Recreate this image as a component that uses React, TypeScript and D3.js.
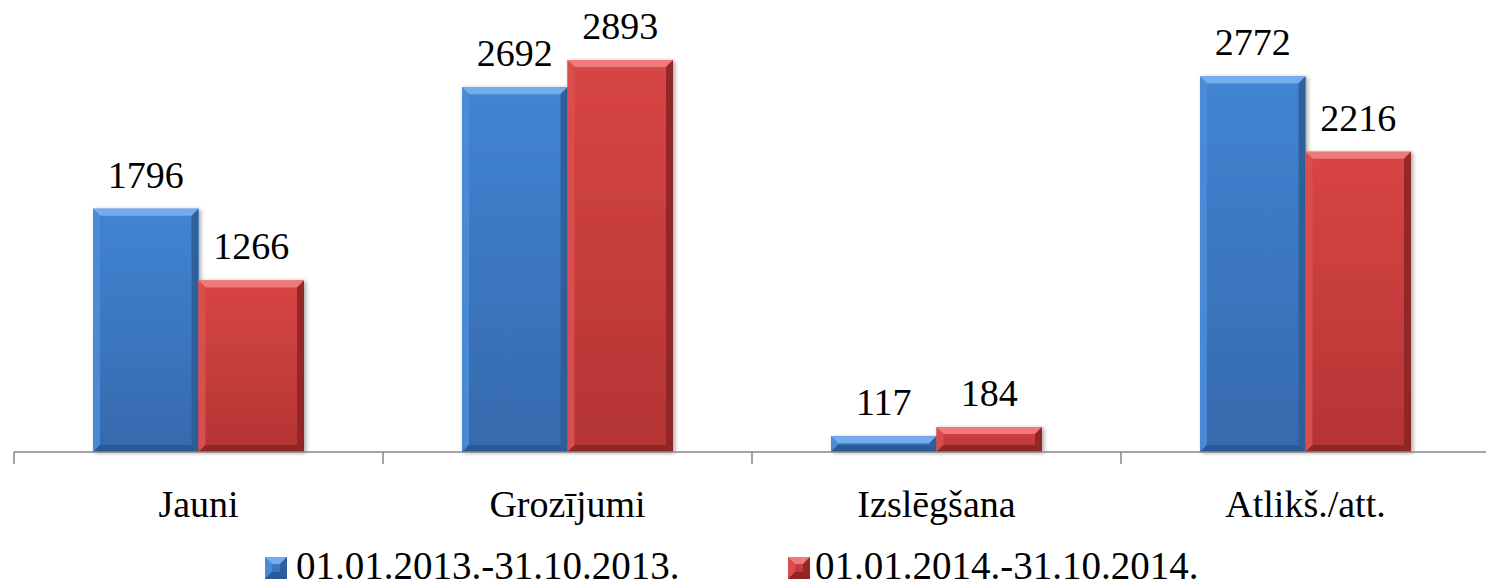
import React from "react";
import * as d3 from "d3";

const categories = ["Jauni", "Grozījumi", "Izslēgšana", "Atlikš./att."];
const seriesNames = ["01.01.2013.-31.10.2013.", "01.01.2014.-31.10.2014."];
const series2013 = [1796, 2692, 117, 2772];
const series2014 = [1266, 2893, 184, 2216];

const W = 1486;
const H = 588;
const FONT = '"Liberation Serif", "Times New Roman", Times, "DejaVu Serif", serif';

type Pal = { top: string; bottom: string; bevTop: string; bevLeft: string; bevRight: string; bevBottom: string; id: string };
const palettes: Pal[] = [
  { id: "b", top: "#4184d3", bottom: "#3669ad", bevTop: "#74aced", bevLeft: "#4d8cd8", bevRight: "#2d5d98", bevBottom: "#2b5890" },
  { id: "r", top: "#d84545", bottom: "#b43434", bevTop: "#f07a7a", bevLeft: "#dc5050", bevRight: "#8e2626", bevBottom: "#8a2424" },
];

function BevelBar({ x, y, w, h, p }: { x: number; y: number; w: number; h: number; p: Pal }) {
  const b = Math.min(7, h / 2, w / 2);
  const x2 = x + w;
  const y2 = y + h;
  return (
    <g>
      <rect x={x} y={y} width={w} height={h} fill={`url(#grad-${p.id})`} />
      <polygon points={`${x},${y} ${x2},${y} ${x2 - b},${y + b} ${x + b},${y + b}`} fill={p.bevTop} />
      <polygon points={`${x},${y} ${x + b},${y + b} ${x + b},${y2 - b} ${x},${y2}`} fill={p.bevLeft} opacity={0.9} />
      <polygon points={`${x2},${y} ${x2},${y2} ${x2 - b},${y2 - b} ${x2 - b},${y + b}`} fill={p.bevRight} opacity={0.9} />
      <polygon points={`${x},${y2} ${x + b},${y2 - b} ${x2 - b},${y2 - b} ${x2},${y2}`} fill={p.bevBottom} opacity={0.9} />
    </g>
  );
}

export default function App() {
  const baseline = 452;
  const x = d3.scaleBand<string>().domain(categories).range([14, 1490]).paddingInner(0).paddingOuter(0);
  const inner = d3.scaleBand<number>().domain([0, 1]).range([79, x.bandwidth() - 79]).padding(0);
  const y = d3.scaleLinear().domain([0, 3000]).range([baseline, baseline - 406.5]);
  const data = [series2013, series2014];
  const ticks = [...categories.map((c) => x(c) as number), 1490];

  const legendItems = [
    { mx: 265, tx: 296 },
    { mx: 788, tx: 815 },
  ];
  const textStyle = { fontFamily: FONT } as React.CSSProperties;

  return (
    <svg width={W} height={H} style={{ position: "absolute", left: 0, top: 0, background: "#fff" }}>
      <defs>
        {palettes.map((p) => (
          <linearGradient key={p.id} id={`grad-${p.id}`} x1="0" y1="0" x2="0" y2="1">
            <stop offset="0" stopColor={p.top} />
            <stop offset="1" stopColor={p.bottom} />
          </linearGradient>
        ))}
        <filter id="shadow" x="-10%" y="-10%" width="130%" height="130%">
          <feGaussianBlur in="SourceAlpha" stdDeviation="2" />
          <feOffset dx="2" dy="1" result="ob" />
          <feComponentTransfer>
            <feFuncA type="linear" slope="0.35" />
          </feComponentTransfer>
          <feMerge>
            <feMergeNode />
            <feMergeNode in="SourceGraphic" />
          </feMerge>
        </filter>
      </defs>

      {categories.map((c, ci) =>
        data.map((s, si) => {
          const bx = (x(c) as number) + (inner(si) as number);
          const bw = inner.bandwidth();
          const by = y(s[ci]);
          return (
            <g key={`${c}-${si}`} filter="url(#shadow)">
              <BevelBar x={bx} y={by} w={bw} h={baseline - by} p={palettes[si]} />
            </g>
          );
        })
      )}

      {/* axis */}
      <line x1={14} x2={W} y1={baseline} y2={baseline} stroke="#868686" strokeWidth={1.5} />
      {ticks.map((t, i) => (
        <line key={i} x1={t} x2={t} y1={baseline} y2={baseline + 12} stroke="#868686" strokeWidth={1.5} />
      ))}

      {/* value labels */}
      {categories.map((c, ci) =>
        data.map((s, si) => {
          const cx = (x(c) as number) + (inner(si) as number) + inner.bandwidth() / 2;
          return (
            <text key={`l-${c}-${si}`} x={cx} y={y(s[ci]) - 21} textAnchor="middle" style={textStyle} fontSize={38} fill="#000">
              {s[ci]}
            </text>
          );
        })
      )}

      {/* category labels */}
      {categories.map((c) => (
        <text key={`c-${c}`} x={(x(c) as number) + x.bandwidth() / 2} y={517} textAnchor="middle" style={textStyle} fontSize={38} fill="#000">
          {c}
        </text>
      ))}

      {/* legend */}
      {legendItems.map((li, i) => (
        <g key={`lg-${i}`}>
          <BevelBar x={li.mx} y={557} w={22} h={22} p={palettes[i]} />
          <text x={li.tx} y={579} style={textStyle} fontSize={39} fill="#000">
            {seriesNames[i]}
          </text>
        </g>
      ))}
    </svg>
  );
}
